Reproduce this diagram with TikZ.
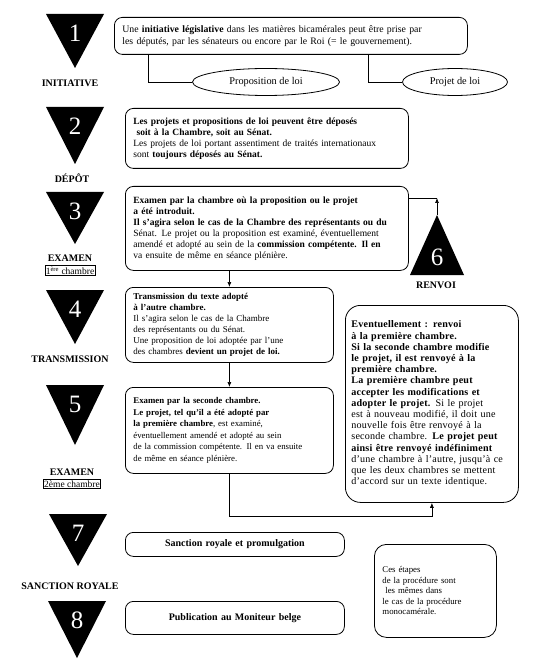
\documentclass[tikz,border=0pt]{standalone}
\usepackage{fontspec}
\setmainfont{Liberation Serif}
\usepackage{tikz}
\usetikzlibrary{arrows.meta,positioning,calc,shapes.geometric}

\begin{document}
\begin{tikzpicture}[x=1pt, y=-1pt,
  txtbox/.style={draw, line width=0.8pt, rounded corners=8pt, anchor=north west, align=left,
    inner xsep=8pt, inner ysep=3pt, font=\fontsize{9.5}{11}\selectfont},
  bubble/.style={draw, line width=0.8pt, ellipse, font=\fontsize{10.3}{12}\selectfont},
  stepnum/.style={text=white, font=\fontsize{25}{25}\selectfont},
  steplbl/.style={font=\fontsize{10}{11}\selectfont\bfseries},
  chbox/.style={draw, line width=0.6pt, inner sep=0.8pt, font=\fontsize{9.5}{10}\selectfont},
  link/.style={line width=0.7pt},
  linkarr/.style={line width=0.7pt, -{Latex[length=5pt,width=4pt]}}]
\useasboundingbox (0,0) rectangle (538,668);

% Black triangles with step numbers
\foreach \n/\cx/\ty/\by in {1/75/14/68, 2/75/107/164, 3/75/192/244, 4/75/290/344,
    5/75/385/445, 7/78/514/566, 8/77/601/658}{
  \fill ({\cx-29},\ty) -- ({\cx+29},\ty) -- (\cx,\by) -- cycle;
  \node[stepnum] (n\n) at (\cx,{\ty+19}) {\n};
}
\fill (437,215) -- (464,275) -- (410,275) -- cycle;
\coordinate (t6top) at (437,215);
\node[stepnum] (n6) at (437,257) {6};

% Step labels
\node[steplbl] (lbl1) at (70,83) {INITIATIVE};
\node[steplbl] (lbl2) at (72,178) {DÉPÔT};
\node[steplbl] (lbl3) at (70,258) {EXAMEN};
\node[chbox, below=0.5pt of lbl3] (ch1) {1\textsuperscript{ère} chambre};
\node[steplbl] (lbl4) at (70,359) {TRANSMISSION};
\node[steplbl] (lbl5) at (72,472) {EXAMEN};
\node[chbox, below=0.5pt of lbl5] (ch2) {2ème chambre};
\node[steplbl] (lbl6) at (436,285) {RENVOI};
\node[steplbl] (lbl7) at (70,586) {SANCTION ROYALE};

% Text boxes
\node[txtbox, font=\fontsize{9.8}{12}\selectfont, text width=337pt, minimum height=37pt] (b1) at (114,17)
  {Une \textbf{initiative législative} dans les matières bicamérales peut être prise par\\
   les députés, par les sénateurs ou encore par le Roi (= le gouvernement).};
\node[txtbox, text width=267pt, minimum height=60pt] (b2) at (125,108)
  {\textbf{Les projets et propositions de loi peuvent être déposés}\\
   \textbf{\ soit à la Chambre, soit au Sénat.}\\
   Les projets de loi portant assentiment de traités internationaux\\
   sont \textbf{toujours déposés au Sénat.}};
\node[txtbox, text width=267pt, minimum height=84pt] (b3) at (125,186)
  {\textbf{Examen par la chambre où la proposition ou le projet}\\
   \textbf{a été introduit.}\\
   \textbf{Il s'agira selon le cas de la Chambre des représentants ou du}\\
   Sénat. Le projet ou la proposition est examiné, éventuellement\\
   amendé et adopté au sein de la \textbf{commission compétente. Il en}\\
   va ensuite de même en séance plénière.};
\node[txtbox, font=\fontsize{9}{11}\selectfont, text width=192pt, minimum height=75pt] (b4) at (125,287)
  {\textbf{Transmission du texte adopté}\\
   \textbf{à l'autre chambre.}\\
   Il s'agira selon le cas de la Chambre\\
   des représentants ou du Sénat.\\
   Une proposition de loi adoptée par l'une\\
   des chambres \textbf{devient un projet de loi.}};
\node[txtbox, font=\fontsize{8.8}{11.5}\selectfont, text width=192pt, minimum height=86pt] (b5) at (125,387)
  {\textbf{Examen par la seconde chambre.}\\
   \textbf{Le projet, tel qu'il a été adopté par}\\
   \textbf{la première chambre}, est examiné,\\
   éventuellement amendé et adopté au sein\\
   de la commission compétente. Il en va ensuite\\
   de même en séance plénière.};
\node[txtbox, rounded corners=15pt, inner xsep=6pt, font=\fontsize{10.1}{11.2}\selectfont\addfontfeature{LetterSpace=2},
    text width=161pt, minimum height=197pt] (rv) at (345,305)
  {\textbf{Eventuellement : renvoi}\\
   \textbf{à la première chambre.}\\
   \textbf{Si la seconde chambre modifie}\\
   \textbf{le projet, il est renvoyé à la}\\
   \textbf{première chambre.}\\
   \textbf{La première chambre peut}\\
   \textbf{accepter les modifications et}\\
   \textbf{adopter le projet.} Si le projet\\
   est à nouveau modifié, il doit une\\
   nouvelle fois être renvoyé à la\\
   seconde chambre. \textbf{Le projet peut}\\
   \textbf{ainsi être renvoyé indéfiniment}\\
   d'une chambre à l'autre, jusqu'à ce\\
   que les deux chambres se mettent\\
   d'accord sur un texte identique.};
\node[txtbox, align=center, font=\fontsize{10}{12}\selectfont, text width=203pt, minimum height=24pt] (b7) at (125,532)
  {\textbf{Sanction royale et promulgation}};
\node[txtbox, align=center, font=\fontsize{10}{12}\selectfont, text width=203pt, minimum height=33pt] (b8) at (125,601)
  {\textbf{Publication au Moniteur belge}};
\node[txtbox, rounded corners=12pt, font=\fontsize{8.8}{10.5}\selectfont, text width=106pt, minimum height=93pt] (note) at (374,544)
  {Ces étapes\\
   de la procédure sont\\
   \ les mêmes dans\\
   le cas de la procédure\\
   monocamérale.};

% Ellipses
\node[bubble, minimum width=147pt, minimum height=27pt] (e1) at (266,82) {Proposition de loi};
\node[bubble, minimum width=105pt, minimum height=27pt] (e2) at (455,82) {Projet de loi};

% Connectors
\draw[link] ($(b1.south west)+(34,0)$) |- (e1.west);
\draw[link] ($(b1.south west)+(254,0)$) |- (e2.west);
\draw[linkarr] (b3.south -| b4.north) -- (b4.north);
\draw[linkarr] (b4.south) -- (b5.north);
\coordinate (k6) at ($(b3.north east)+(0,12)$);
\draw[link] (k6) -- (k6 -| t6top);
\draw[linkarr] (t6top) -- (k6 -| t6top);
\draw[linkarr] (b5.south) -- ++(0,43) -| (rv.south);
\end{tikzpicture}
\end{document}
